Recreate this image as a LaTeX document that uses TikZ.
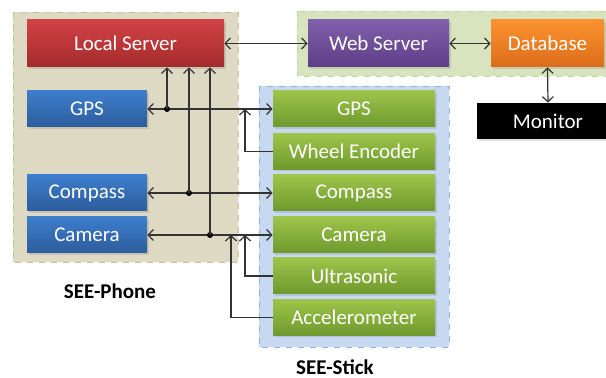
\documentclass[tikz,border=0pt]{standalone}
\usepackage{fontspec}
\setmainfont{Carlito}
\usepackage{xcolor}
\usetikzlibrary{positioning,calc,arrows.meta,shadows}

\definecolor{phonebg}{HTML}{DDD9C3}
\definecolor{phoneln}{HTML}{C4BD97}
\definecolor{webbg}{HTML}{D7E4BD}
\definecolor{webln}{HTML}{C3D69B}
\definecolor{stickbg}{HTML}{C6D9F1}
\definecolor{stickln}{HTML}{8DB3E2}
\definecolor{wire}{HTML}{333333}
\definecolor{redtop}{HTML}{D24245}
\definecolor{redbot}{HTML}{A42B2C}
\definecolor{bluetop}{HTML}{3D7ECC}
\definecolor{bluebot}{HTML}{2D5C9C}
\definecolor{greentop}{HTML}{9EC44A}
\definecolor{greenbot}{HTML}{6E992D}
\definecolor{purptop}{HTML}{8160AB}
\definecolor{purpbot}{HTML}{5E3E86}
\definecolor{orgtop}{HTML}{FC922F}
\definecolor{orgbot}{HTML}{DB6D1A}

\begin{document}
\begin{tikzpicture}[x=0.5pt,y=-0.5pt,
    >={Straight Barb[length=2.6pt,width=5.5pt]},
    box/.style={rectangle, inner sep=0pt, text=white, font=\fontsize{10.5}{12}\selectfont,
        drop shadow={opacity=0.25, shadow xshift=0.8pt, shadow yshift=-0.8pt}},
    redbox/.style={box, top color=redtop, bottom color=redbot, minimum width=98.5pt, minimum height=23.5pt},
    bluebox/.style={box, top color=bluetop, bottom color=bluebot, minimum width=60pt, minimum height=18pt},
    stick/.style={box, top color=greentop, bottom color=greenbot, minimum width=81pt, minimum height=18pt},
    group/.style={draw, dashed, line width=0.4pt},
    wire/.style={draw=wire, line width=0.6pt},
    dot/.style={circle, fill=black, inner sep=0pt, minimum size=3pt},
    title/.style={font=\fontsize{10.5}{12}\selectfont\bfseries}]
    \useasboundingbox (0,0) rectangle (606,378);

    % containers
    \fill[phonebg] (13,12) rectangle (238,262);
    \draw[group, draw=phoneln] (13,12) rectangle (238,262);
    \fill[webbg] (297,11) rectangle (614,76);
    \draw[group, draw=webln] (297,11) rectangle (614,76);
    \fill[stickbg] (259,86) rectangle (449,347);
    \draw[group, draw=stickln] (259,86) rectangle (449,347);

    % SEE-Phone side
    \node[redbox] (lsrv) at (125.5,43.5) {Local Server};
    \foreach \n/\y/\t in {pgps/109/GPS, pcmp/193/Compass, pcam/235/Camera} {
        \node[bluebox] (\n) at (87,\y) {\t};
    }
    \node[title] (phone) at (110,291) {SEE-Phone};

    % server side
    \node[box, top color=purptop, bottom color=purpbot, minimum width=70.5pt, minimum height=23.5pt] (wsrv) at (378.5,43.5) {Web Server};
    \node[box, top color=orgtop, bottom color=orgbot, minimum width=56.5pt, minimum height=23.5pt] (db) at (547.5,43.5) {Database};
    \node[box, fill=black, minimum width=71pt, minimum height=18pt] (mon) at (548,121) {Monitor};

    % SEE-Stick side
    \foreach \n/\y/\t in {sgps/109/GPS, senc/151.5/Wheel Encoder, scmp/193/Compass, scam/235/Camera, sult/276/Ultrasonic, sacc/317.5/Accelerometer} {
        \node[stick] (\n) at (354,\y) {\t};
    }
    \node[title] (stick) at (335,367) {SEE-Stick};

    % links
    \draw[wire,<->] (lsrv.east) -- (wsrv.west);
    \draw[wire,<->] (wsrv.east) -- (db.west);
    \draw[wire,<->] (db.south) -- (mon.north);

    \foreach \a/\b/\x in {pgps/sgps/167, pcmp/scmp/189, pcam/scam/210} {
        \draw[wire,<->] (\a.east) -- (\b.west);
        \node[dot] (j\a) at (\x,0 |- \a.east) {};
        \draw[wire,->] (j\a.center) -- (j\a.center |- lsrv.south);
    }

    \coordinate (tenc) at (245,109);
    \coordinate (tult) at (245,235);
    \coordinate (tacc) at (231,235);
    \draw[wire,->] (senc.west) -| (tenc);
    \draw[wire,->] (sult.west) -| (tult);
    \draw[wire,->] (sacc.west) -| (tacc);
\end{tikzpicture}
\end{document}
